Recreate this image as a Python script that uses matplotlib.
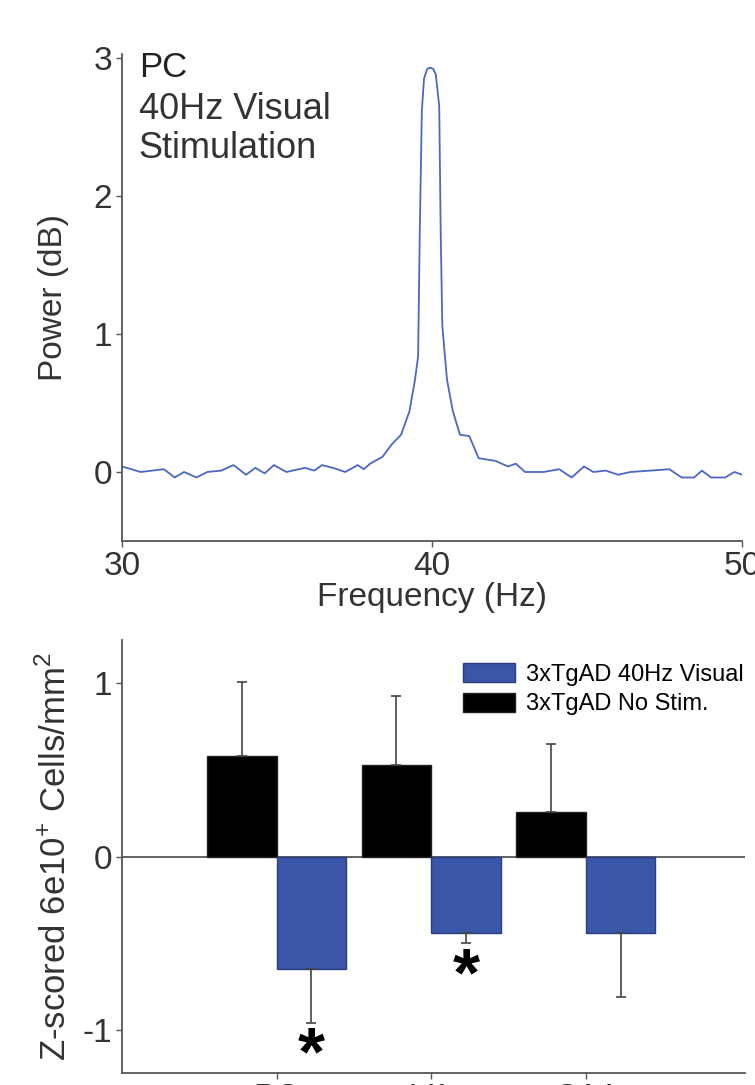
import matplotlib
matplotlib.use('Agg')
import matplotlib.pyplot as plt
from matplotlib.patches import Patch

plt.rcParams['font.family'] = ['Liberation Sans', 'DejaVu Sans']
plt.rcParams['mathtext.fontset'] = 'custom'
plt.rcParams['mathtext.rm'] = 'Liberation Sans'
plt.rcParams['mathtext.bf'] = 'Liberation Sans:bold'
plt.rcParams['axes.unicode_minus'] = False

# spectrum
freq = [30.0, 30.6, 31.35, 31.7, 32.0, 32.4, 32.75, 33.2, 33.6, 34.0, 34.3, 34.6,
        34.9, 35.3, 35.9, 36.2, 36.45, 36.8, 37.2, 37.6, 37.8, 38.0, 38.4, 38.7,
        39.0, 39.27, 39.45, 39.55, 39.6, 39.67, 39.74, 39.84, 39.94, 40.04, 40.12,
        40.23, 40.28, 40.33, 40.48, 40.67, 40.9, 41.2, 41.5, 42.05, 42.45, 42.7,
        43.0, 43.6, 44.1, 44.5, 44.9, 45.2, 45.6, 46.0, 46.4, 47.05, 47.65, 48.05,
        48.45, 48.7, 49.0, 49.45, 49.75, 50.0]
power = [0.04, 0.0, 0.02, -0.04, 0.0, -0.04, 0.0, 0.01, 0.05, -0.02, 0.03, -0.01,
         0.05, 0.0, 0.03, 0.01, 0.05, 0.03, 0.0, 0.05, 0.02, 0.06, 0.11, 0.2,
         0.27, 0.44, 0.67, 0.84, 1.7, 2.62, 2.85, 2.92, 2.93, 2.92, 2.88,
         2.65, 1.7, 1.06, 0.67, 0.44, 0.27, 0.26, 0.10, 0.08, 0.04, 0.06,
         0.0, 0.0, 0.02, -0.04, 0.04, 0.0, 0.01, -0.02, 0.0, 0.01, 0.02, -0.04,
         -0.04, 0.01, -0.04, -0.04, 0.0, -0.02]

# bar panel
regions = ['PC', 'V1', 'CA1']
nostim_mean = [0.58, 0.53, 0.26]
nostim_err = [0.43, 0.40, 0.39]
visual_mean = [-0.65, -0.44, -0.44]
visual_err = [0.31, 0.06, 0.37]
signif = [True, True, False]

blue = '#3a56a8'
axcol = '#555555'
txtcol = '#333333'

fig = plt.figure(figsize=(7.55, 10.85), dpi=100)

# ---- top: power spectrum
ax1 = fig.add_axes([0.1616, 0.5014, 0.8214, 0.4490])
ax1.plot(freq, power, color='#4a68c4', lw=1.3)
ax1.set_xlim(30, 50)
ax1.set_ylim(-0.5, 3.03)
ax1.set_xticks([30, 40, 50])
ax1.set_yticks([0, 1, 2, 3])
ax1.set_xlabel('Frequency (Hz)', fontsize=24, color=txtcol, labelpad=0)
ax1.set_ylabel('Power (dB)', fontsize=24, color=txtcol, labelpad=18)
ax1.text(0.027, 1.006, 'PC', transform=ax1.transAxes, fontsize=25,
         color='#222222', va='top')
ax1.text(0.027, 0.922, '40Hz Visual\nStimulation', transform=ax1.transAxes,
         fontsize=26, color='#333333', va='top', linespacing=1.17)

# ---- bottom: z-scored cell counts
ax2 = fig.add_axes([0.1616, 0.011, 0.8254, 0.399])
x = list(range(len(regions)))
w = 0.45
xb = [i - w / 2 for i in x]
xv = [i + w / 2 for i in x]
ekw = dict(ecolor='#444444', elinewidth=1.2, capsize=3.5, capthick=1.2)
ax2.bar(xb, nostim_mean, width=w, color='black', edgecolor='#222222', lw=1,
        yerr=[[0] * 3, nostim_err], error_kw=ekw)
ax2.bar(xv, visual_mean, width=w, color=blue, edgecolor='#2a3f80', lw=1,
        yerr=[visual_err, [0] * 3], error_kw=ekw)
ax2.axhline(0, color=axcol, lw=1.3, zorder=0)
for i in range(len(regions)):
    if signif[i]:
        ax2.text(xv[i], visual_mean[i] - visual_err[i] - 0.19, r'$\mathbf{*}$',
                 ha='center', va='center', fontsize=50, color='black')
ax2.set_xlim(-1.0, 3.03)
ax2.set_ylim(-1.25, 1.25)
ax2.set_yticks([-1, 0, 1])
ax2.set_xticks(x)
ax2.set_xticklabels(regions)
ax2.set_ylabel(r'Z-scored 6e10$^{+}$ Cells/mm$^{2}$', fontsize=25, color=txtcol,
               labelpad=7)
handles = [Patch(facecolor=blue, edgecolor='#2a3f80'),
           Patch(facecolor='black', edgecolor='#222222')]
ax2.legend(handles, ['3xTgAD 40Hz Visual', '3xTgAD No Stim.'], loc='upper left',
           bbox_to_anchor=(0.52, 0.985), frameon=False, fontsize=17,
           handlelength=2.2, handleheight=0.85, handletextpad=0.5,
           labelspacing=0.3, borderpad=0.2)

for ax in (ax1, ax2):
    ax.spines['top'].set_visible(False)
    ax.spines['right'].set_visible(False)
    for s in ('left', 'bottom'):
        ax.spines[s].set_color(axcol)
        ax.spines[s].set_linewidth(1.3)
    ax.tick_params(colors=axcol, labelcolor=txtcol, labelsize=24, length=4,
                   width=1, pad=3)

plt.savefig('out.png', dpi=100)
